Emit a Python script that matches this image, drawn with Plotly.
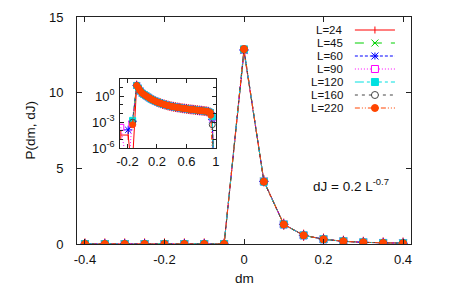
import plotly.graph_objects as go

# ---------------- data ----------------
labels = ["L=24", "L=45", "L=60", "L=90", "L=120", "L=160", "L=220"]
colors = ["#ff0000", "#00d000", "#0000ff", "#ff00ff", "#00e0e0", "#444444", "#ff4500"]
dashes = ["solid", "dash", "3px,2px", "1px,2px", "dashdot", "3px,4px", "5px,2px,1px,2px,1px,2px"]
symbols = ["line-ns-open", "x-thin-open", "asterisk-open", "square-open", "square", "circle-open", "circle"]
msizes = [8, 7, 8, 7, 7, 7, 7]

dm = [-0.40, -0.35, -0.30, -0.25, -0.20, -0.15, -0.10, -0.05, 0.00,
      0.05, 0.10, 0.15, 0.20, 0.25, 0.30, 0.35, 0.40]
P_main = {
    "L=24":  [0, 0, 0, 0, 0, 0, 0, 0, 12.70, 4.18, 1.31, 0.58, 0.32, 0.18, 0.11, 0.07, 0.06],
    "L=45":  [0, 0, 0, 0, 0, 0, 0, 0, 12.78, 4.15, 1.30, 0.57, 0.31, 0.18, 0.11, 0.07, 0.05],
    "L=60":  [0, 0, 0, 0, 0, 0, 0, 0, 12.82, 4.14, 1.30, 0.57, 0.31, 0.18, 0.11, 0.07, 0.05],
    "L=90":  [0, 0, 0, 0, 0, 0, 0, 0, 12.84, 4.13, 1.29, 0.57, 0.31, 0.18, 0.11, 0.07, 0.05],
    "L=120": [0, 0, 0, 0, 0, 0, 0, 0, 12.86, 4.12, 1.29, 0.57, 0.31, 0.18, 0.11, 0.07, 0.05],
    "L=160": [0, 0, 0, 0, 0, 0, 0, 0, 12.87, 4.12, 1.29, 0.57, 0.31, 0.18, 0.11, 0.07, 0.05],
    "L=220": [0, 0, 0, 0, 0, 0, 0, 0, 12.88, 4.12, 1.29, 0.57, 0.31, 0.18, 0.11, 0.07, 0.05],
}

# inset: common body of the distribution (log10 P)
inset_x_core = [-0.075, -0.05, -0.025, 0.0, 0.025, 0.05, 0.075, 0.1, 0.125, 0.15,
                0.175, 0.2, 0.225, 0.25, 0.275, 0.3, 0.325, 0.35, 0.375, 0.4,
                0.425, 0.45, 0.475, 0.5, 0.525, 0.55, 0.575, 0.6, 0.625, 0.65,
                0.675, 0.7, 0.725, 0.75, 0.775, 0.8, 0.825, 0.85, 0.875, 0.9, 0.925]
inset_logp_core = [1.25, 0.95, 0.60, 0.35, 0.20, 0.05, -0.08, -0.22, -0.35, -0.46,
                   -0.56, -0.66, -0.74, -0.82, -0.89, -0.96, -1.02, -1.08, -1.13, -1.18,
                   -1.22, -1.26, -1.30, -1.33, -1.37, -1.40, -1.43, -1.46, -1.49, -1.52,
                   -1.54, -1.57, -1.60, -1.62, -1.65, -1.67, -1.70, -1.72, -1.75, -1.80, -1.90]
# edge points for each L (x, log10 P); -9 lies far below the visible range
inset_left = {
    "L=24":  ([-0.29, -0.19, -0.14], [-4.5, -4.5, -9]),
    "L=45":  ([-0.13], [-3.0]),
    "L=60":  ([-0.19, -0.13], [-3.9, -2.9]),
    "L=90":  ([-0.29, -0.19, -0.14], [-3.6, -9, -3.2]),
    "L=120": ([-0.13], [-2.8]),
    "L=160": ([-0.13], [-3.0]),
    "L=220": ([-0.13], [-3.3]),
}
inset_right = {
    "L=24":  ([0.95, 0.97], [-2.6, -9]),
    "L=45":  ([0.95, 0.97], [-2.3, -9]),
    "L=60":  ([0.95, 0.97], [-2.7, -9]),
    "L=90":  ([0.95, 0.97], [-2.5, -9]),
    "L=120": ([0.95, 0.97], [-2.4, -9]),
    "L=160": ([0.95, 0.97], [-3.3, -9]),
    "L=220": ([0.93, 0.96], [-2.2, -9]),
}

FONT = "Liberation Sans, Arial, sans-serif"
fig = go.Figure()

for i, lab in enumerate(labels):
    fig.add_trace(go.Scatter(
        x=dm, y=P_main[lab], mode="lines+markers", name=lab, showlegend=False,
        line=dict(color=colors[i], width=1, dash=dashes[i]),
        marker=dict(symbol=symbols[i], size=msizes[i], color=colors[i],
                    line=dict(color=colors[i], width=1)),
        xaxis="x", yaxis="y"))

for i, lab in enumerate(labels):
    lx, ly = inset_left[lab]
    rx, ry = inset_right[lab]
    xs = lx + inset_x_core + rx
    ys = [10 ** v for v in (ly + inset_logp_core + ry)]
    fig.add_trace(go.Scatter(
        x=xs, y=ys, mode="lines+markers", showlegend=False,
        line=dict(color=colors[i], width=1, dash=dashes[i]),
        marker=dict(symbol=symbols[i], size=msizes[i] - 1, color=colors[i],
                    line=dict(color=colors[i], width=1)),
        xaxis="x2", yaxis="y2", cliponaxis=True))

# ---------- gnuplot-style key (text, then line sample with symbol) ----------
shapes = [dict(type="rect", xref="paper", yref="paper", x0=0.129, x1=0.416,
               y0=0.423, y1=0.727, fillcolor="white", line=dict(width=0),
               layer="below")]
annotations = []
KEY_TEXT_X, KEY_L0, KEY_L1, KEY_MX = 0.8024, 0.832, 0.952, 0.892
for k, lab in enumerate(labels):
    yp = (244 - (30 + 13 * k)) / 227.0
    c = colors[k]
    annotations.append(dict(text=lab, xref="paper", yref="paper", x=KEY_TEXT_X, y=yp,
                            xanchor="right", yanchor="middle", showarrow=False,
                            font=dict(size=11.5)))
    shapes.append(dict(type="line", xref="paper", yref="paper", x0=KEY_L0, x1=KEY_L1,
                       y0=yp, y1=yp, line=dict(color=c, width=1, dash=dashes[k])))
    base = dict(xref="paper", yref="paper", xsizemode="pixel", ysizemode="pixel",
                xanchor=KEY_MX, yanchor=yp)
    r = 3.5
    sym = symbols[k]
    if sym == "line-ns-open":
        shapes.append(dict(type="line", x0=0, x1=0, y0=-r, y1=r,
                           line=dict(color=c, width=1), **base))
    elif sym == "x-thin-open":
        shapes.append(dict(type="line", x0=-r, x1=r, y0=-r, y1=r, line=dict(color=c, width=1), **base))
        shapes.append(dict(type="line", x0=-r, x1=r, y0=r, y1=-r, line=dict(color=c, width=1), **base))
    elif sym == "asterisk-open":
        shapes.append(dict(type="line", x0=-r, x1=r, y0=-r, y1=r, line=dict(color=c, width=1), **base))
        shapes.append(dict(type="line", x0=-r, x1=r, y0=r, y1=-r, line=dict(color=c, width=1), **base))
        shapes.append(dict(type="line", x0=0, x1=0, y0=-r, y1=r, line=dict(color=c, width=1), **base))
        shapes.append(dict(type="line", x0=-r, x1=r, y0=0, y1=0, line=dict(color=c, width=1), **base))
    elif sym == "square-open":
        shapes.append(dict(type="rect", x0=-r, x1=r, y0=-r, y1=r, fillcolor="white",
                           line=dict(color=c, width=1), **base))
    elif sym == "square":
        shapes.append(dict(type="rect", x0=-r, x1=r, y0=-r, y1=r, fillcolor=c,
                           line=dict(color=c, width=1), **base))
    elif sym == "circle-open":
        shapes.append(dict(type="circle", x0=-r, x1=r, y0=-r, y1=r, fillcolor="white",
                           line=dict(color=c, width=1), **base))
    else:
        shapes.append(dict(type="circle", x0=-r, x1=r, y0=-r, y1=r, fillcolor=c,
                           line=dict(color=c, width=1), **base))

annotations += [
    dict(text="dJ = 0.2 L<sup>-0.7</sup>", xref="paper", yref="paper",
         x=0.82, y=0.26, xanchor="center", yanchor="middle",
         showarrow=False, font=dict(size=13.5)),
    dict(text="P(dm, dJ)", xref="paper", yref="paper", x=-0.1407, y=0.50,
         xanchor="center", yanchor="middle", textangle=-90,
         showarrow=False, font=dict(size=13.5)),
    dict(text="dm", xref="paper", yref="paper", x=0.5, y=-0.150,
         xanchor="center", yanchor="middle", showarrow=False,
         font=dict(size=13.5)),
]

axcol = "#222222"
fig.update_layout(
    width=460, height=287,
    margin=dict(l=77, r=49, t=17, b=43, autoexpand=False),
    paper_bgcolor="white", plot_bgcolor="white",
    font=dict(family=FONT, size=13, color="#111"),
    showlegend=False,
    xaxis=dict(range=[-0.42, 0.42], tickvals=[-0.4, -0.2, 0, 0.2, 0.4],
               ticktext=["-0.4", "-0.2", "0", "0.2", "0.4"],
               ticks="inside", ticklen=5, tickcolor=axcol, mirror="ticks",
               showline=True, linecolor=axcol, linewidth=1, showgrid=False,
               zeroline=False, ticklabelstandoff=3, automargin=False, domain=[0, 1]),
    yaxis=dict(range=[0, 15], tickvals=[0, 5, 10, 15],
               ticks="inside", ticklen=5, tickcolor=axcol, mirror="ticks",
               showline=True, linecolor=axcol, linewidth=1, showgrid=False,
               zeroline=False, ticklabelstandoff=10, automargin=False, domain=[0, 1]),
    xaxis2=dict(domain=[0.129, 0.416], anchor="y2", range=[-0.3, 1.0],
                tickvals=[-0.2, 0.2, 0.6, 1.0], ticktext=["-0.2", "0.2", "0.6", "1"],
                ticks="inside", ticklen=4, tickcolor=axcol, mirror="ticks",
                showline=True, linecolor=axcol, linewidth=1, showgrid=False,
                zeroline=False, ticklabelstandoff=1, automargin=False),
    yaxis2=dict(domain=[0.423, 0.727], anchor="x2", type="log", range=[-6, 2],
                tickvals=[1, 1e-3, 1e-6],
                ticktext=["10<sup>0</sup>", "10<sup>-3</sup>", "10<sup>-6</sup>"],
                ticks="inside", ticklen=4, tickcolor=axcol, mirror="ticks",
                minor=dict(tickvals=[10, 1e-1, 1e-2, 1e-4, 1e-5], ticks="inside",
                           ticklen=3, tickcolor=axcol),
                showline=True, linecolor=axcol, linewidth=1, showgrid=False,
                zeroline=False, ticklabelstandoff=2, automargin=False),
    annotations=annotations,
    shapes=shapes,
)

fig.write_html("out.html", config={"displayModeBar": False},
               post_script="document.body.style.margin='0';document.body.style.padding='0';")
